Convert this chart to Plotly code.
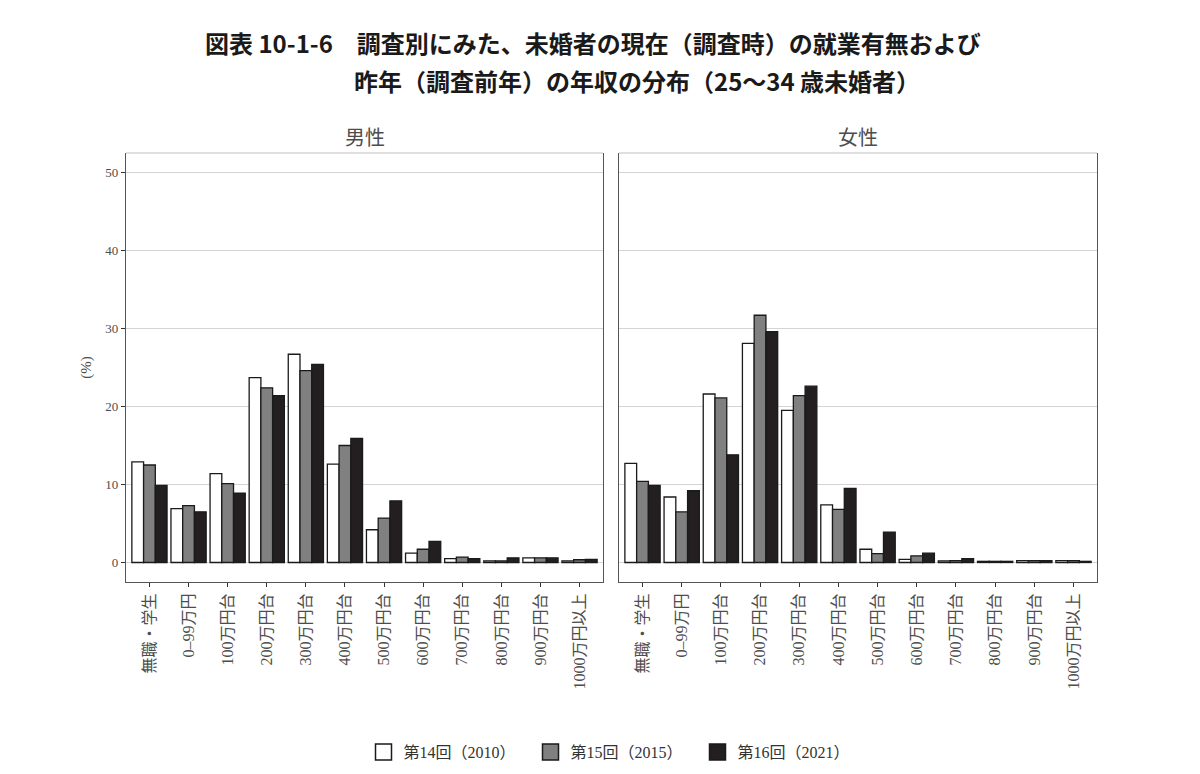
import plotly.graph_objects as go

categories = ["無職・学生", "0–99万円", "100万円台", "200万円台", "300万円台", "400万円台",
              "500万円台", "600万円台", "700万円台", "800万円台", "900万円台", "1000万円以上"]
series_names = ["第14回（2010）", "第15回（2015）", "第16回（2021）"]

male_2010 = [12.9, 6.9, 11.4, 23.7, 26.7, 12.6, 4.2, 1.2, 0.5, 0.2, 0.6, 0.2]
male_2015 = [12.5, 7.3, 10.1, 22.4, 24.6, 15.0, 5.7, 1.7, 0.7, 0.2, 0.6, 0.35]
male_2021 = [9.9, 6.5, 8.9, 21.4, 25.4, 15.9, 7.9, 2.7, 0.5, 0.6, 0.6, 0.4]

female_2010 = [12.7, 8.4, 21.6, 28.1, 19.5, 7.4, 1.7, 0.4, 0.2, 0.15, 0.25, 0.25]
female_2015 = [10.4, 6.5, 21.1, 31.7, 21.4, 6.8, 1.15, 0.85, 0.25, 0.15, 0.25, 0.25]
female_2021 = [9.9, 9.2, 13.8, 29.6, 22.6, 9.5, 3.9, 1.2, 0.5, 0.15, 0.25, 0.15]

y_ticks = [0, 10, 20, 30, 40, 50]
panel_titles = ["男性", "女性"]
title_lines = ["図表 10-1-6　調査別にみた、未婚者の現在（調査時）の就業有無および",
               "昨年（調査前年）の年収の分布（25～34 歳未婚者）"]

fill_colors = ["#ffffff", "#808080", "#231f20"]
SERIF = "Liberation Serif, DejaVu Serif, Noto Sans CJK JP, serif"
SANS = "Noto Sans CJK JP, Noto Sans, sans-serif"

# page offset (body margin) compensation
OFF = 8
W, H = 1200 - 2 * OFF, 774 - 2 * OFF
ML = 126 - OFF
MT = 153 - OFF
MR = W - (1097 - OFF)
MB = H - (582 - OFF)
PW = W - ML - MR
PH = H - MT - MB

def px(x):
    return (x - OFF - ML) / PW

def py(y):
    return (H - MB - (y - OFF)) / PH

fig = go.Figure()

male = [male_2010, male_2015, male_2021]
female = [female_2010, female_2015, female_2021]
for panel, data in enumerate([male, female]):
    xa = "x" if panel == 0 else "x2"
    ya = "y" if panel == 0 else "y2"
    for i, vals in enumerate(data):
        fig.add_trace(go.Bar(
            x=categories, y=vals, name=series_names[i],
            marker=dict(color=fill_colors[i], line=dict(color="#1a1a1a", width=1.3)),
            offsetgroup=str(i), xaxis=xa, yaxis=ya, showlegend=False,
            hovertemplate="%{x}: %{y}%<extra>" + series_names[i] + "</extra>",
        ))

for i, name in enumerate(series_names):
    fig.add_trace(go.Scatter(
        x=[None], y=[None], mode="markers", name=name,
        marker=dict(symbol="square", size=22, color=fill_colors[i],
                    line=dict(color="#1a1a1a", width=1.5)),
        showlegend=True,
    ))

d1 = [0, px(603)]
d2 = [px(619), 1]
axis_common = dict(
    type="category", range=[-0.6, len(categories) - 0.4],
    showgrid=False, zeroline=False, showline=True, linecolor="#555555", linewidth=1.3,
    ticks="outside", ticklen=4, tickwidth=1.1, tickcolor="#333333",
    tickangle=-90, tickfont=dict(family=SERIF, size=16, color="#4d4d4d"),
)
fig.update_layout(
    xaxis=dict(domain=d1, anchor="y", **axis_common),
    xaxis2=dict(domain=d2, anchor="y2", **axis_common),
    yaxis=dict(domain=[0, 1], anchor="x", range=[-2.5, 52.5], tickvals=y_ticks,
               showgrid=True, gridcolor="#d4d4d4", gridwidth=1, zeroline=False,
               showline=True, mirror=True, linecolor="#555555", linewidth=1.3,
               ticks="outside", ticklen=4, tickwidth=1.1, tickcolor="#333333",
               tickfont=dict(family=SERIF, size=13, color="#4d4d4d"),
               title=dict(text="(%)", font=dict(family=SERIF, size=15, color="#4d4d4d"), standoff=10)),
    yaxis2=dict(domain=[0, 1], anchor="x2", range=[-2.5, 52.5], tickvals=y_ticks,
                matches="y", showgrid=True, gridcolor="#d4d4d4", gridwidth=1, zeroline=False,
                showline=True, mirror=True, linecolor="#555555", linewidth=1.3,
                ticks="", showticklabels=False),
    barmode="group", bargap=0.1, bargroupgap=0,
    plot_bgcolor="white", paper_bgcolor="white",
    width=W, height=H,
    margin=dict(l=ML, r=MR, t=MT, b=MB, autoexpand=False),
    showlegend=True,
    legend=dict(orientation="h", x=px(614), xanchor="center", y=py(752), yanchor="middle",
                font=dict(family=SERIF, size=16, color="#333333"),
                itemsizing="trace", traceorder="normal", itemwidth=30,
                entrywidth=122, entrywidthmode="pixels"),
)

for xr, yr in [("x domain", "y domain"), ("x2 domain", "y2 domain")]:
    fig.add_shape(type="line", xref=xr, yref=yr, x0=0, x1=1, y0=1, y1=1,
                  line=dict(color="#d4d4d4", width=1.3), layer="above")

fig.add_annotation(x=px(203), y=py(42), xref="paper", yref="paper", xanchor="left", yanchor="middle",
                   text="<b>" + title_lines[0] + "</b>", showarrow=False,
                   font=dict(family=SANS, size=24, color="#1a1a1a"))
fig.add_annotation(x=px(352), y=py(80), xref="paper", yref="paper", xanchor="left", yanchor="middle",
                   text="<b>" + title_lines[1] + "</b>", showarrow=False,
                   font=dict(family=SANS, size=24, color="#1a1a1a"))

for t, d in zip(panel_titles, [d1, d2]):
    fig.add_annotation(x=(d[0] + d[1]) / 2, y=py(137), xref="paper", yref="paper",
                       xanchor="center", yanchor="middle", text=t, showarrow=False,
                       font=dict(family=SANS, size=20, color="#4d4d4d"))

fig.write_html("out.html")
